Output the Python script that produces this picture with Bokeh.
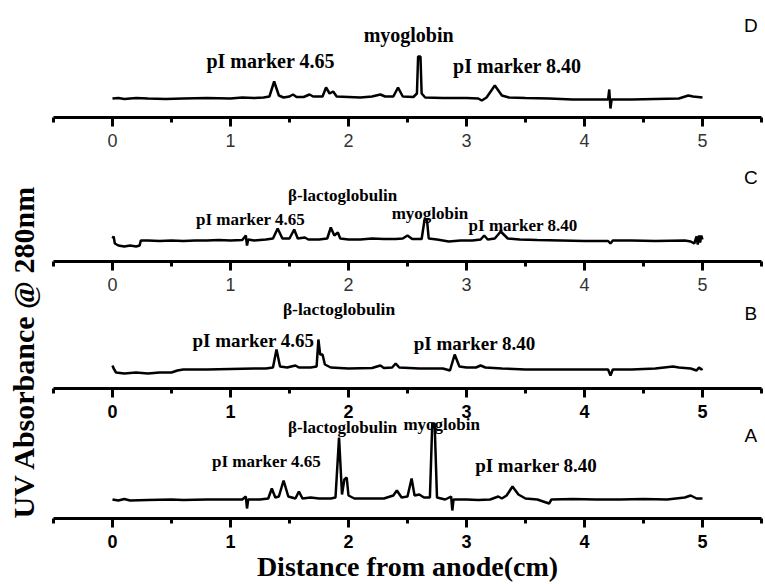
import math
from bokeh.plotting import figure
from bokeh.models import Label, FixedTicker, Range1d, LinearAxis
from bokeh.embed import file_html
from bokeh.resources import INLINE

# ---------------- data ----------------
MAJOR_TICKS = [0, 1, 2, 3, 4, 5]
MINOR_TICKS = [-0.5, 0.5, 1.5, 2.5, 3.5, 4.5, 5.5]
AXIS_BOUNDS = (-0.5, 5.5)

# Panel D
D_x = [0.00, 0.05, 0.10, 0.20, 0.30, 0.45, 0.60, 0.80, 1.00, 1.10, 1.20, 1.28, 1.33, 1.37, 1.41,
       1.45, 1.50, 1.53, 1.56, 1.62, 1.67, 1.70, 1.78, 1.81, 1.84, 1.87, 1.90, 2.00, 2.10, 2.20,
       2.27, 2.31, 2.38, 2.42, 2.46, 2.55, 2.58, 2.59, 2.61, 2.62, 2.65, 2.80, 3.00, 3.10, 3.13,
       3.17, 3.24, 3.30, 3.36, 3.50, 3.70, 3.90, 4.10, 4.20, 4.21, 4.22, 4.23, 4.40, 4.60, 4.80,
       4.88, 4.92, 5.00]
D_y = [0, 0.5, -0.5, 0.5, 0, -0.5, 0, 0.5, 0, 1, 0.5, 1, 2, 17, 3,
       1, 2, 4, 1.5, 1.5, 4, 2, 2, 11, 5, 7, 2, 1.5, 1, 2,
       4, 2, 2, 11, 2, 1.5, 5, 42, 42, 5, 1, 0.5, 0.5, 0, -2,
       1, 13, 3, 1, 0.5, 0, -1, -1, -1, 9, -10, -1, -1, -0.5, 0,
       3, 2, 1]

# Panel C
C_x = [0.00, 0.01, 0.02, 0.05, 0.10, 0.15, 0.20, 0.23, 0.24, 0.30, 0.40, 0.50, 0.60, 0.70, 0.80,
       0.90, 1.00, 1.10, 1.13, 1.14, 1.15, 1.20, 1.30, 1.36, 1.40, 1.44, 1.50, 1.54, 1.57, 1.63,
       1.66, 1.75, 1.82, 1.85, 1.88, 1.91, 1.93, 2.00, 2.10, 2.20, 2.30, 2.40, 2.46, 2.50, 2.54,
       2.62, 2.645, 2.665, 2.68, 2.75, 2.85, 2.95, 3.05, 3.12, 3.15, 3.18, 3.24, 3.29, 3.35, 3.45,
       3.60, 3.80, 4.00, 4.20, 4.22, 4.24, 4.40, 4.60, 4.85, 4.90, 4.93, 4.95, 4.96, 4.97, 4.98,
       4.99, 5.00]
C_y = [2, 4, -3, -5, -6, -5, -6, -5, 0, 0, -0.5, 0, -0.5, 0, 0,
       0.5, 0, 0.5, 5, -5, 1, 0, 1, 2, 12, 2, 2, 11, 2, 3,
       1, 1, 2, 13, 5, 8, 2, 1, 1, 2, 1.5, 1.5, 2, 5, 1.5,
       1.5, 21, 21, 2, 1, -1, 0, 0, 1, 5, 1, 2, 9, 2, 1,
       0.5, 0, -0.5, -0.5, -3, 0, 0, -0.5, 0, -1, -3, 4, -4, 5, -2,
       5, 1]

# Panel B
B_x = [0.00, 0.01, 0.03, 0.10, 0.20, 0.30, 0.40, 0.50, 0.55, 0.60, 0.80, 1.00, 1.20, 1.30, 1.36,
       1.39, 1.42, 1.48, 1.55, 1.58, 1.68, 1.73, 1.745, 1.76, 1.78, 1.80, 1.85, 2.00, 2.20, 2.27,
       2.30, 2.37, 2.40, 2.43, 2.60, 2.80, 2.86, 2.90, 2.94, 3.00, 3.08, 3.12, 3.16, 3.30, 3.50,
       3.70, 4.00, 4.20, 4.22, 4.24, 4.40, 4.60, 4.75, 4.80, 4.90, 4.95, 4.97, 4.99, 5.00]
B_y = [3, 0, -4, -5, -4, -5, -4, -4, -2, -1, -1, -0.5, 0, 0, 1,
       19, 2, 1, 3, 1, 1, 2, 29, 14, 14, 4, 1, 0, 0.5, 3,
       0.5, 1, 5, 1, 0, 0, -2, 14, 2, 1, 1, 3, 1, 0, -1,
       -1, -1, -1, -7, -1, -1, 0, 2, 1, 0, -2, 1, -1, 0]

# Panel A
A_x = [0.00, 0.05, 0.10, 0.15, 0.30, 0.50, 0.60, 0.80, 1.00, 1.10, 1.13, 1.14, 1.15, 1.25, 1.32,
       1.35, 1.38, 1.41, 1.45, 1.49, 1.55, 1.58, 1.61, 1.68, 1.75, 1.85, 1.89, 1.92, 1.945, 1.965,
       1.985, 2.00, 2.05, 2.20, 2.30, 2.38, 2.41, 2.45, 2.50, 2.535, 2.56, 2.60, 2.64, 2.69, 2.71,
       2.73, 2.75, 2.82, 2.87, 2.88, 2.89, 3.00, 3.10, 3.20, 3.27, 3.30, 3.34, 3.39, 3.44, 3.50,
       3.60, 3.70, 3.72, 3.90, 4.10, 4.30, 4.50, 4.70, 4.85, 4.90, 4.95, 5.00]
A_y = [0, -1, 0.5, -1, -0.5, 0, -0.5, 0, 0, 0, 3, -9, 0, 0, 1,
       11, 2, 3, 19, 3, 1, 8, 1, 2, 1, 1, 2, 62, 5, 20,
       22, 4, 1, 1, 1, 4, 9, 2, 3, 21, 4, 5, 2, 2, 76,
       76, 2, 0, 3, -11, 0, 0, -0.5, 0, 3, 1, 4, 13, 5, 1,
       0, -4, 0, 0.5, 0, 0, 0.5, 0, 2, 4, 1, 1]

# annotations: text, x, y (baseline), font size px
D_notes = [("pI marker 4.65", 1.34, 38, 20), ("myoglobin", 2.51, 64, 20), ("pI marker 8.40", 3.43, 33, 20)]
C_notes = [("\u03b2-lactoglobulin", 1.95, 45, 17), ("pI marker 4.65", 1.17, 21, 17),
           ("myoglobin", 2.69, 27, 17), ("pI marker 8.40", 3.48, 15, 17)]
B_notes = [("\u03b2-lactoglobulin", 1.92, 60, 17.5), ("pI marker 4.65", 1.195, 28, 19),
           ("pI marker 8.40", 3.07, 25, 19)]
A_notes = [("\u03b2-lactoglobulin", 1.95, 72, 17), ("myoglobin", 2.79, 75, 17),
           ("pI marker 4.65", 1.305, 38, 17), ("pI marker 8.40", 3.59, 34, 19)]

SERIF = "Liberation Serif"
SANS = "Liberation Sans"

# the frame fills the whole canvas; every panel has its own vertical scale
p = figure(width=765, height=584,
           x_range=Range1d(-0.949, 5.534), y_range=Range1d(-85, 499),
           x_axis_location=None, y_axis_location=None,
           output_backend="svg", toolbar_location=None, min_border=0)
p.outline_line_color = None
p.background_fill_color = "white"
p.border_fill_color = "white"
p.grid.visible = False
p.xgrid.visible = False
p.ygrid.visible = False
p.extra_y_ranges = {"D": Range1d(-486, 98), "C": Range1d(-344, 240), "B": Range1d(-216, 368)}

panels = [
    ("D", D_x, D_y, D_notes, "D", 73, -19, False),
    ("C", C_x, C_y, C_notes, "C", 63, -21, False),
    ("B", B_x, B_y, B_notes, "B", 55, -20, True),
    ("default", A_x, A_y, A_notes, "A", 64, -19, True),
]

for rname, xs, ys, notes, letter, letter_y, axis_loc, bold in panels:
    ax = LinearAxis(y_range_name=rname, fixed_location=axis_loc, bounds=AXIS_BOUNDS)
    ax.ticker = FixedTicker(ticks=MAJOR_TICKS, minor_ticks=MINOR_TICKS)
    ax.axis_line_width = 3
    ax.axis_line_color = "black"
    ax.major_tick_line_width = 3
    ax.minor_tick_line_width = 3
    ax.major_tick_out = 9
    ax.major_tick_in = 0
    ax.minor_tick_out = 5
    ax.minor_tick_in = 0
    ax.major_label_standoff = 7
    ax.major_label_text_font = SANS
    ax.major_label_text_font_size = "18px"
    if bold:
        ax.major_label_text_font_style = "bold"
        ax.major_label_text_color = "black"
    else:
        ax.major_label_text_font_style = "normal"
        ax.major_label_text_color = "#333333"
    if letter == "A":
        ax.axis_label = "Distance from anode(cm)"
        ax.axis_label_text_font = SERIF
        ax.axis_label_text_font_style = "bold"
        ax.axis_label_text_font_size = "28px"
        ax.axis_label_standoff = 0
        ax.axis_label_text_color = "black"
    p.add_layout(ax, "below")

    p.line(xs, ys, line_width=2.5, line_color="black", y_range_name=rname)

    for txt, x, y, fs in notes:
        p.add_layout(Label(x=x, y=y, y_range_name=rname, text=txt,
                           text_align="center", text_baseline="alphabetic",
                           text_font=SERIF, text_font_style="bold",
                           text_font_size=f"{fs}px", text_color="black"))
    p.add_layout(Label(x=5.41, y=letter_y, y_range_name=rname, text=letter,
                       text_align="center", text_baseline="middle",
                       text_font=SANS, text_font_size="19px", text_color="black"))

p.add_layout(Label(x=23, y=233, x_units="screen", y_units="screen",
                   text="UV Absorbance @ 280nm", angle=math.pi / 2,
                   text_align="center", text_baseline="middle",
                   text_font=SERIF, text_font_style="bold", text_font_size="30px",
                   text_color="black"))

open("out.html", "w").write(file_html(p, INLINE))
